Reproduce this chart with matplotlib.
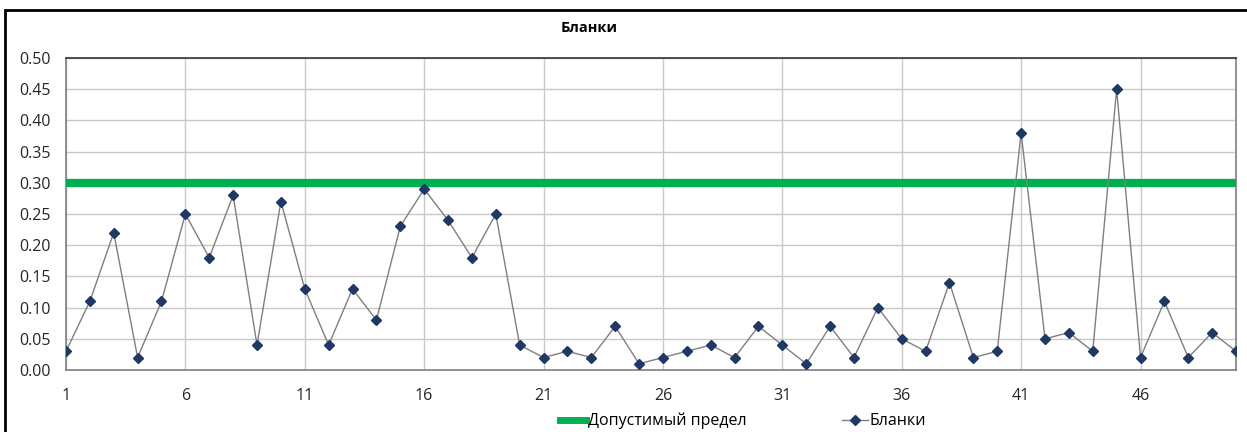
import numpy as np
import matplotlib.pyplot as plt
from matplotlib.lines import Line2D
from matplotlib.patches import Rectangle

plt.rcParams['font.family'] = ['Open Sans', 'DejaVu Sans']

# blank sample results, one per run
runs = np.arange(1, 51)
blanks = [0.03, 0.11, 0.22, 0.02, 0.11, 0.25, 0.18, 0.28, 0.04, 0.27,
          0.13, 0.04, 0.13, 0.08, 0.23, 0.29, 0.24, 0.18, 0.25, 0.04,
          0.02, 0.03, 0.02, 0.07, 0.01, 0.02, 0.03, 0.04, 0.02, 0.07,
          0.04, 0.01, 0.07, 0.02, 0.10, 0.05, 0.03, 0.14, 0.02, 0.03,
          0.38, 0.05, 0.06, 0.03, 0.45, 0.02, 0.11, 0.02, 0.06, 0.03]
limit = 0.30
x_ticks = np.arange(1, 50, 5)
y_ticks = np.arange(0, 0.51, 0.05)

fig = plt.figure(figsize=(12.47, 4.32), dpi=100)
ax = fig.add_axes([0.0529, 0.1435, 0.9383, 0.7222])

# outer chart frame (right and bottom edges run off the image)
fig.patches.append(Rectangle((5 / 1247, -0.05), 1.1, 1.05 - 10 / 432,
                             transform=fig.transFigure, fill=False,
                             edgecolor='black', linewidth=2))

ax.axhline(limit, color='#00B050', linewidth=6, zorder=3)
ax.plot(runs, blanks, color='#7f7f7f', linewidth=1, marker='D',
        markersize=5.5, markerfacecolor='#1F3864', markeredgecolor='#1F3864',
        zorder=4)

ax.set_xlim(1, 50)
ax.set_ylim(0, 0.5)
ax.set_xticks(x_ticks)
ax.set_yticks(y_ticks)
ax.set_yticklabels([f'{v:.2f}' for v in y_ticks])
ax.tick_params(length=0, labelsize=11.5, colors='#262626')
ax.tick_params(axis='y', pad=11)
ax.tick_params(axis='x', pad=13)
ax.grid(True, color='#c8c8c8', linewidth=1)
ax.set_axisbelow(True)
for side in ['left', 'bottom', 'right']:
    ax.spines[side].set_color('#7f7f7f')
    ax.spines[side].set_linewidth(1.2)
ax.spines['top'].set_color('#333333')
ax.spines['top'].set_linewidth(1.2)

fig.text(589 / 1247, 1 - 28 / 432, 'Бланки', ha='center', va='center',
         fontsize=10.5, fontweight='bold')

handles = [Line2D([], [], color='#00B050', linewidth=5),
           Line2D([], [], color='#7f7f7f', linewidth=1, marker='D',
                  markersize=5, markerfacecolor='#1F3864',
                  markeredgecolor='#1F3864')]
fig.legend(handles, ['Допустимый предел', 'Бланки'], loc='center',
           bbox_to_anchor=(743 / 1247, 1 - 421 / 432), ncol=2, frameon=False,
           fontsize=11.5, handlelength=1.6, handletextpad=0.1,
           columnspacing=6.0)

fig.savefig('out.png', dpi=100)
